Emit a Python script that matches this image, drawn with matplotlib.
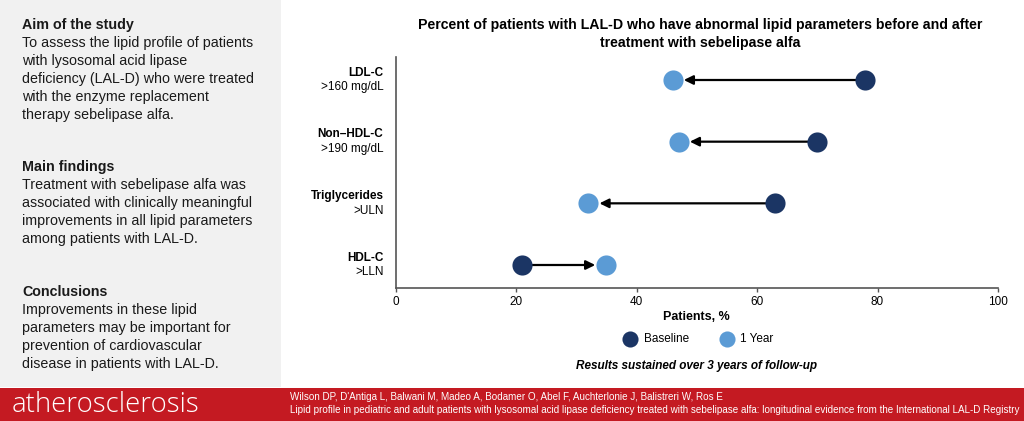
import matplotlib
matplotlib.use("Agg")
import matplotlib.pyplot as plt
from matplotlib.transforms import blended_transform_factory

# data
params = ["LDL-C", "Non\u2013HDL-C", "Triglycerides", "HDL-C"]
thresholds = [">160 mg/dL", ">190 mg/dL", ">ULN", ">LLN"]
baseline = [78, 70, 63, 21]
year1 = [46, 47, 32, 35]
xticks = [0, 20, 40, 60, 80, 100]

title = ("Percent of patients with LAL-D who have abnormal lipid parameters before and after\n"
         "treatment with sebelipase alfa")
sections = [
    ("Aim of the study",
     ["To assess the lipid profile of patients",
      "with lysosomal acid lipase",
      "deficiency (LAL-D) who were treated",
      "with the enzyme replacement",
      "therapy sebelipase alfa."]),
    ("Main findings",
     ["Treatment with sebelipase alfa was",
      "associated with clinically meaningful",
      "improvements in all lipid parameters",
      "among patients with LAL-D."]),
    ("Conclusions",
     ["Improvements in these lipid",
      "parameters may be important for",
      "prevention of cardiovascular",
      "disease in patients with LAL-D."]),
]
citation = [
    "Wilson DP, D'Antiga L, Balwani M, Madeo A, Bodamer O, Abel F, Auchterlonie J, Balistreri W, Ros E",
    "Lipid profile in pediatric and adult patients with lysosomal acid lipase deficiency treated with "
    "sebelipase alfa: longitudinal evidence from the International LAL-D Registry",
]

DARK = "#1b3564"
LIGHT = "#5b9bd5"
RED = "#c41a22"
SANS = ["Liberation Sans", "DejaVu Sans"]

W, H = 1024, 421
fig = plt.figure(figsize=(W / 100, H / 100), dpi=100)
fig.patch.set_facecolor("white")


def fx(px):
    return px / W


def fy(py):
    return 1 - py / H


# left grey panel and red banner
fig.patches.append(plt.Rectangle((0, fy(387)), fx(281), 1 - fy(387), transform=fig.transFigure,
                                 facecolor="#f1f1f1", edgecolor="none", zorder=0))
fig.patches.append(plt.Rectangle((0, 0), 1, fy(388), transform=fig.transFigure,
                                 facecolor=RED, edgecolor="none", zorder=0))

# left panel text
heads_y = [25, 167, 292]
for (head, lines), y0 in zip(sections, heads_y):
    fig.text(fx(22), fy(y0), head, fontsize=10.3, fontweight="bold", family=SANS,
             va="center", ha="left", color="#1a1a1a")
    for i, ln in enumerate(lines):
        fig.text(fx(22), fy(y0 + 18 * (i + 1)), ln, fontsize=10.3, family=SANS,
                 va="center", ha="left", color="#1a1a1a")

# banner text
fig.text(fx(12), fy(405), "atherosclerosis", fontsize=19.8, family=["Open Sans", "Liberation Sans"],
         fontweight="light", color="white", va="center", ha="left")
for i, ln in enumerate(citation):
    fig.text(fx(290), fy(397 + 13 * i), ln, fontsize=7.1, family=SANS, color="white",
             va="center", ha="left")

# main chart
ax = fig.add_axes([fx(395.5), fy(288), fx(998) - fx(395.5), fy(57) - fy(288)])
ax.set_facecolor("none")
ypos = list(range(len(params)))[::-1]

for yb, b, a in zip(ypos, baseline, year1):
    ax.annotate("", xy=(a, yb), xytext=(b, yb),
                arrowprops=dict(arrowstyle="-|>,head_length=0.55,head_width=0.27",
                                color="black", lw=1.6, shrinkA=0, shrinkB=8),
                zorder=2)

ax.scatter(baseline, ypos, s=210, color=DARK, zorder=3, label="Baseline", linewidths=0)
ax.scatter(year1, ypos, s=210, color=LIGHT, zorder=3, label="1 Year", linewidths=0)

ax.set_xlim(0, 100)
ax.set_ylim(-0.373, 3.373)
ax.set_xticks(xticks)
ax.set_xticklabels([str(t) for t in xticks], fontsize=8.5, family=SANS)
ax.set_yticks([])
ax.tick_params(axis="x", direction="out", length=3, width=1, color="#555555", pad=3)
for s in ["top", "right"]:
    ax.spines[s].set_visible(False)
for s in ["left", "bottom"]:
    ax.spines[s].set_color("#555555")
    ax.spines[s].set_linewidth(1.2)

trans = blended_transform_factory(ax.transAxes, ax.transData)
for yb, p, t in zip(ypos, params, thresholds):
    ax.text(-0.02, yb + 0.12, p, transform=trans, ha="right", va="center",
            fontsize=8.5, fontweight="bold", family=SANS)
    ax.text(-0.02, yb - 0.12, t, transform=trans, ha="right", va="center",
            fontsize=8.5, family=SANS)

ax.set_xlabel("Patients, %", fontsize=9, fontweight="bold", family=SANS, labelpad=2)

fig.text(fx(700), fy(34), title, ha="center", va="center", fontsize=10.2,
         fontweight="bold", family=SANS, linespacing=1.32)

leg = ax.legend(loc="center", ncol=2, frameon=False, markerscale=0.8,
                handletextpad=0.15, columnspacing=2.2, prop=dict(family=SANS, size=8.5))
leg.set_bbox_to_anchor((fx(696), fy(339)), transform=fig.transFigure)

fig.text(fx(697), fy(366), "Results sustained over 3 years of follow-up", ha="center",
         va="center", fontsize=8.5, fontweight="bold", style="italic", family=SANS)

fig.savefig("out.png", dpi=100)
